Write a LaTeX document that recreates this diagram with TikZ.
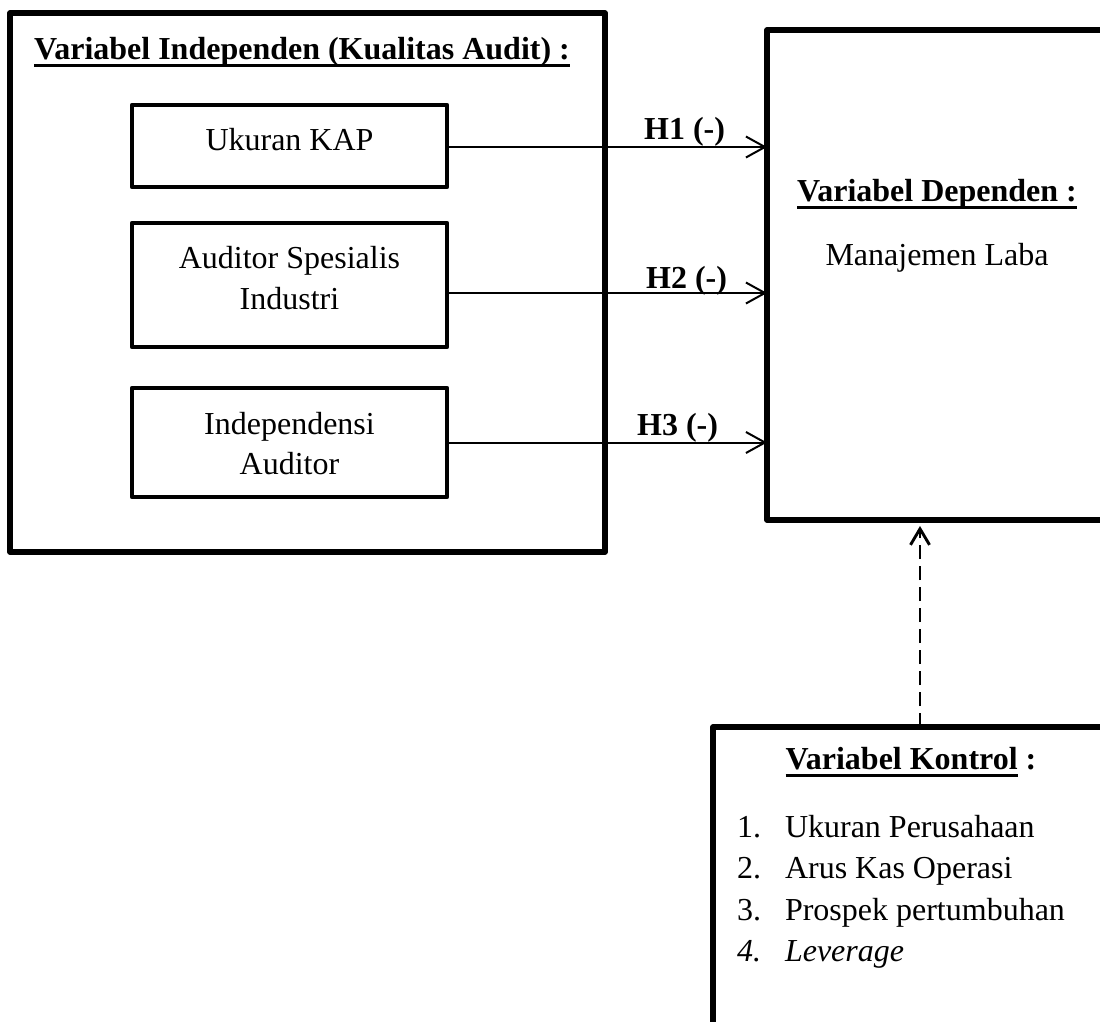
\documentclass[tikz,border=0pt]{standalone}
\usepackage{fontspec}
\setmainfont{Liberation Serif}
\newcommand{\myul}[1]{\setbox0\hbox{#1}\rlap{\rule[-7.6pt]{\wd0}{3pt}}\box0\relax}
\usetikzlibrary{arrows.meta}
\tikzset{
  bigbox/.style={draw, line width=5.2pt, line join=round, outer sep=0pt, inner sep=0pt, fill=none},
  smallbox/.style={draw, line width=4.6pt, line join=round, outer sep=0pt, inner sep=0pt},
  txt/.style={inner sep=0pt, outer sep=0pt, font=\fontsize{32}{38}\selectfont},
  arr/.style={line width=2pt, -{Straight Barb[length=19pt, width=21pt, line width=2pt]}},
  dasharr/.style={line width=2.9pt, dash pattern=on 14pt off 7pt, -{Straight Barb[length=16pt, width=19pt, line width=2.9pt]}, shorten >=6pt}
}
\begin{document}
\begin{tikzpicture}[x=1pt, y=-1pt]
\useasboundingbox (0,0) rectangle (1100,1021);
\clip (0,0) rectangle (1100,1021);
\fill[white] (0,0) rectangle (1100,1021);

% boxes
\node[bigbox, anchor=north west, minimum width=595pt, minimum height=539pt] (indep) at (10,13) {};
\node[smallbox, anchor=north west, minimum width=315pt, minimum height=82pt] (kap) at (132,105) {};
\node[smallbox, anchor=north west, minimum width=315pt, minimum height=124pt] (spes) at (132,223) {};
\node[smallbox, anchor=north west, minimum width=315pt, minimum height=109pt] (indp) at (132,388) {};
\node[bigbox, anchor=north west, minimum width=400pt, minimum height=490pt] (dep) at (767,30) {};
\node[bigbox, anchor=north west, minimum width=414pt, minimum height=340pt] (kon) at (713,727) {};

% texts
\node[txt, anchor=base] (tind) at (302,59) {\textbf{\myul{Variabel Independen (Kualitas Audit) :}}};
\node[txt, anchor=base] (tkap) at (289.5,150) {Ukuran KAP};
\node[txt, anchor=base] (tsp1) at (289.5,268) {Auditor Spesialis};
\node[txt, anchor=base] (tsp2) at (289.5,309) {Industri};
\node[txt, anchor=base] (tin1) at (289.5,434) {Independensi};
\node[txt, anchor=base] (tin2) at (289.5,474) {Auditor};

\node[txt, anchor=base] (tdep) at (937,201) {\textbf{\myul{Variabel Dependen :}}};
\node[txt, anchor=base] (tml) at (937,265) {Manajemen Laba};

\node[txt, anchor=base] (tkon) at (911,769) {\textbf{\myul{Variabel Kontrol} :}};
\node[txt, anchor=base west] (n1) at (737,837) {1.};
\node[txt, anchor=base west] (n2) at (737,878) {2.};
\node[txt, anchor=base west] (n3) at (737,920) {3.};
\node[txt, anchor=base west] (n4) at (737,961) {\textit{4.}};
\node[txt, anchor=base west] (l1) at (785,837) {Ukuran Perusahaan};
\node[txt, anchor=base west] (l2) at (785,878) {Arus Kas Operasi};
\node[txt, anchor=base west] (l3) at (785,920) {Prospek pertumbuhan};
\node[txt, anchor=base west] (l4) at (785,961) {\textit{Leverage}};

% hypothesis labels
\node[txt, anchor=base east] (h1) at (725,139) {\textbf{H1 (-)}};
\node[txt, anchor=base east] (h2) at (727,288) {\textbf{H2 (-)}};
\node[txt, anchor=base east] (h3) at (718,435) {\textbf{H3 (-)}};

% connectors
\coordinate (a1) at ([yshift=-1pt]kap.east);
\coordinate (a2) at ([yshift=-8pt]spes.east);
\coordinate (a3) at (indp.east);
\draw[arr] (a1) -- (a1 -| dep.west);
\draw[arr] (a2) -- (a2 -| dep.west);
\draw[arr] (a3) -- (a3 -| dep.west);
\draw[dasharr] (kon.north) -- (kon.north |- dep.south);
\end{tikzpicture}
\end{document}
